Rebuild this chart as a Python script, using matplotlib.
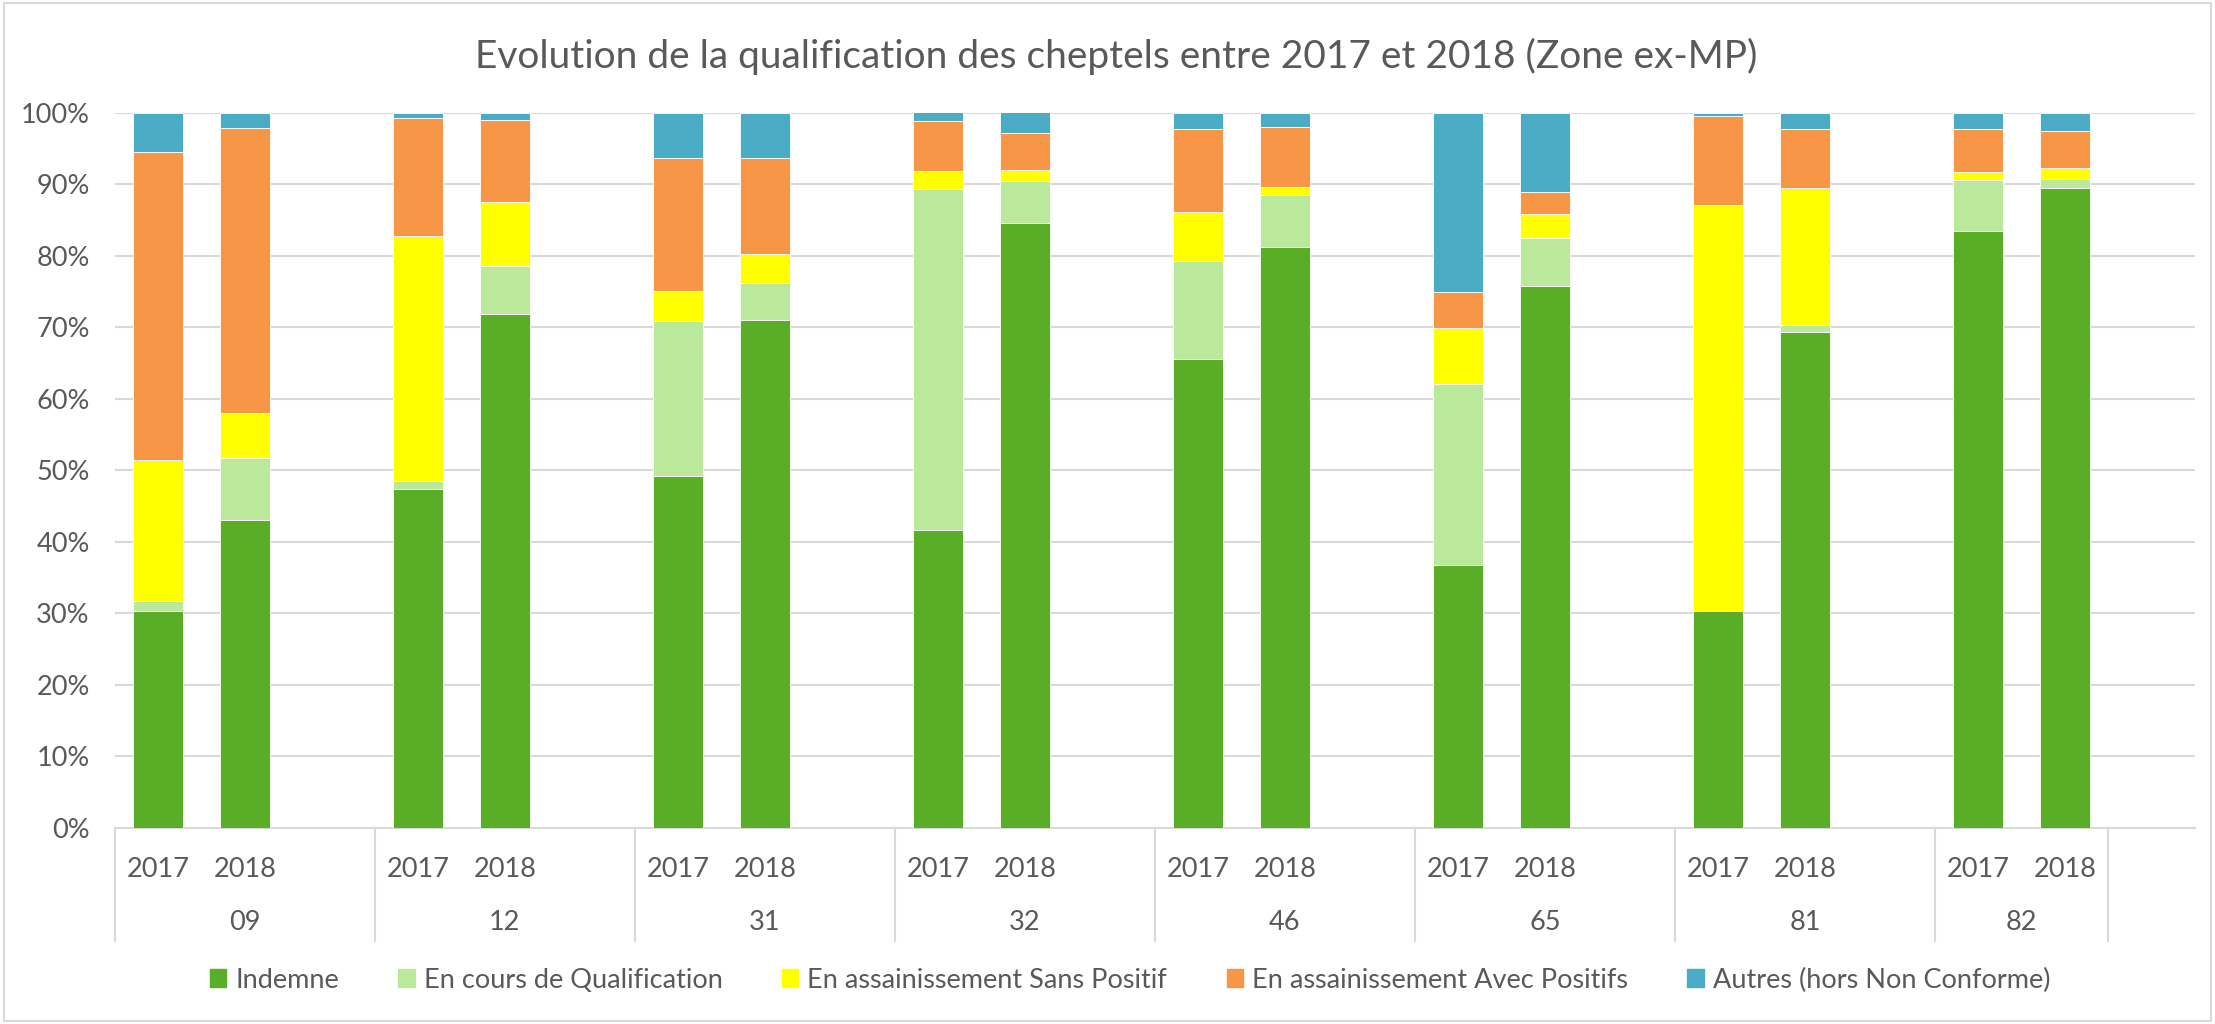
import numpy as np
import matplotlib
matplotlib.use("Agg")
import matplotlib.pyplot as plt
from matplotlib.patches import Rectangle, Patch
from matplotlib.transforms import blended_transform_factory

plt.rcParams['font.family'] = ['Lato', 'DejaVu Sans']

# ---- data ----
groups = ["09", "12", "31", "32", "46", "65", "81", "82"]
years = ["2017", "2018"]
series_names = ["Indemne", "En cours de Qualification", "En assainissement Sans Positif",
                "En assainissement Avec Positifs", "Autres (hors Non Conforme)"]
# order: 09-2017, 09-2018, 12-2017, 12-2018, ...
indemne = [30.3, 43.0, 47.3, 71.9, 49.2, 71.0, 41.6, 84.6, 65.6, 81.2, 36.7, 75.8, 30.3, 69.3, 83.5, 89.5]
en_cours = [1.4, 8.7, 1.2, 6.7, 21.6, 5.2, 47.7, 5.9, 13.6, 7.3, 25.4, 6.7, 0.0, 1.0, 7.1, 1.2]
sans_pos = [19.7, 6.3, 34.3, 8.9, 4.2, 4.0, 2.5, 1.5, 6.9, 1.1, 7.8, 3.3, 56.8, 19.1, 1.1, 1.5]
avec_pos = [43.1, 39.9, 16.5, 11.5, 18.6, 13.5, 7.0, 5.1, 11.6, 8.4, 5.0, 3.1, 12.4, 8.3, 6.0, 5.2]
autres = [5.5, 2.1, 0.7, 1.0, 6.3, 6.3, 1.3, 3.0, 2.3, 2.0, 25.0, 11.1, 0.5, 2.3, 2.3, 2.6]

colors = ["#5AAD27", "#BBE99B", "#FFFF00", "#F79646", "#4BACC6"]
text_color = "#595959"
grid_color = "#D9D9D9"
FS = 19.5

W, H = 2215, 1024
fig = plt.figure(figsize=(W / 100, H / 100), dpi=100)
fig.patch.set_facecolor("white")

# chart border
fig.add_artist(Rectangle((0.002, 0.003), 0.996, 0.994, transform=fig.transFigure,
                         fill=False, edgecolor=grid_color, linewidth=1.5))

left, right = 114.7 / W, 2195 / W
top, bottom = 1 - 112.7 / H, 1 - 827.5 / H
ax = fig.add_axes([left, bottom, right - left, top - bottom])

n_slots = 24
# bar positions: two bars per group, third slot empty
xpos = []
for g in range(len(groups)):
    xpos += [3 * g, 3 * g + 1]
xpos = np.array(xpos, dtype=float)

data = [indemne, en_cours, sans_pos, avec_pos, autres]
base = np.zeros(len(xpos))
handles = []
for vals, col, name in zip(data, colors, series_names):
    v = np.array(vals) / 100.0
    ax.bar(xpos, v, bottom=base, width=0.58, color=col, edgecolor="white",
           linewidth=0.6, zorder=3)
    base += v
    handles.append(Patch(facecolor=col, edgecolor=col, label=name))

ax.set_xlim(-0.5, n_slots - 0.5)
ax.set_ylim(0, 1)
ax.set_yticks(np.arange(0, 1.01, 0.1))
ax.set_yticklabels([f"{int(round(t * 100))}%" for t in np.arange(0, 1.01, 0.1)])
ax.yaxis.grid(True, color=grid_color, linewidth=1.5, zorder=0)
ax.set_axisbelow(True)
for s in ["top", "right", "left"]:
    ax.spines[s].set_visible(False)
ax.spines["bottom"].set_color(grid_color)
ax.spines["bottom"].set_linewidth(1.5)
ax.tick_params(axis="y", length=0, labelsize=FS, labelcolor=text_color, pad=18)

ax.set_xticks(xpos)
ax.set_xticklabels(years * len(groups))
ax.tick_params(axis="x", length=0, labelsize=FS, labelcolor=text_color, pad=21)

axh = 827.5 - 112.7
trans = blended_transform_factory(ax.transData, ax.transAxes)
# group labels (centred on each group's span)
group_centers = [3 * g + 1 for g in range(len(groups) - 1)] + [3 * (len(groups) - 1) + 0.5]
for c, name in zip(group_centers, groups):
    ax.text(c, -(922 - 827.5) / axh, name, transform=trans, ha="center",
            va="center", fontsize=FS, color=text_color)
# separators
sep_bottom = -(941 - 827.5) / axh
edges = [3 * g - 0.5 for g in range(len(groups))] + [3 * (len(groups) - 1) + 1.5]
for e in edges:
    ax.plot([e, e], [0, sep_bottom], transform=trans, color=grid_color, linewidth=1.5,
            clip_on=False)

fig.text(1116 / W, 1 - 56 / H, "Evolution de la qualification des cheptels entre 2017 et 2018 (Zone ex-MP)",
         ha="center", va="center", fontsize=28, color=text_color)

fig.legend(handles=handles, loc="center", bbox_to_anchor=(1130 / W, 1 - 980 / H), ncol=5,
           frameon=False, fontsize=FS, handlelength=0.6, handleheight=0.6, handletextpad=0.33,
           columnspacing=2.2, labelcolor=text_color)

fig.savefig("out.png", dpi=100, facecolor="white")
